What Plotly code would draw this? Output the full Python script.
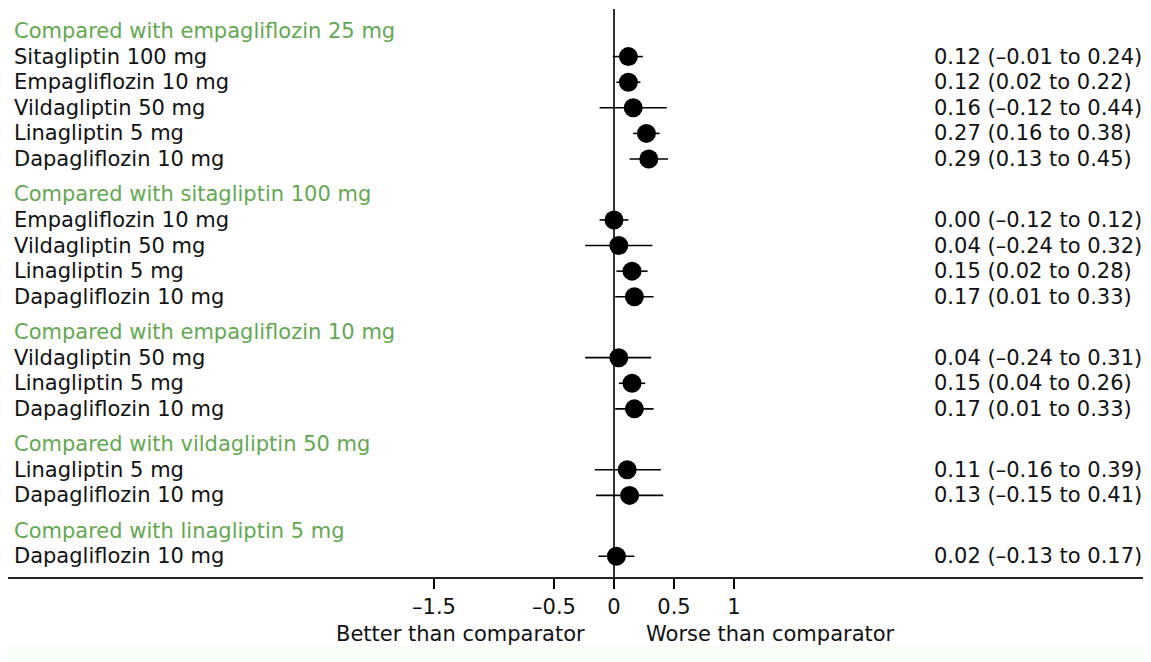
import plotly.graph_objects as go

# ---- data ----
group_titles = [
    "Compared with empagliflozin 25 mg",
    "Compared with sitagliptin 100 mg",
    "Compared with empagliflozin 10 mg",
    "Compared with vildagliptin 50 mg",
    "Compared with linagliptin 5 mg",
]
group_treatments = [
    ["Sitagliptin 100 mg", "Empagliflozin 10 mg", "Vildagliptin 50 mg", "Linagliptin 5 mg", "Dapagliflozin 10 mg"],
    ["Empagliflozin 10 mg", "Vildagliptin 50 mg", "Linagliptin 5 mg", "Dapagliflozin 10 mg"],
    ["Vildagliptin 50 mg", "Linagliptin 5 mg", "Dapagliflozin 10 mg"],
    ["Linagliptin 5 mg", "Dapagliflozin 10 mg"],
    ["Dapagliflozin 10 mg"],
]
group_estimates = [
    [0.12, 0.12, 0.16, 0.27, 0.29],
    [0.00, 0.04, 0.15, 0.17],
    [0.04, 0.15, 0.17],
    [0.11, 0.13],
    [0.02],
]
group_lower = [
    [-0.01, 0.02, -0.12, 0.16, 0.13],
    [-0.12, -0.24, 0.02, 0.01],
    [-0.24, 0.04, 0.01],
    [-0.16, -0.15],
    [-0.13],
]
group_upper = [
    [0.24, 0.22, 0.44, 0.38, 0.45],
    [0.12, 0.32, 0.28, 0.33],
    [0.31, 0.26, 0.33],
    [0.39, 0.41],
    [0.17],
]
tick_values = [-1.5, -0.5, 0, 0.5, 1]
tick_labels = ["\u20131.5", "\u20130.5", "0", "0.5", "1"]
left_axis_label = "Better than comparator"
right_axis_label = "Worse than comparator"

# ---- layout helpers ----
ROW = 1.0
HEADER_GAP = 1.38
GREEN = "#63a851"
FONT = "DejaVu Sans"
FS = 21


def fmt(v):
    s = f"{abs(v):.2f}"
    return ("\u2013" + s) if v < 0 else s


header_y = []
row_y, row_x, row_lo, row_hi, row_names, row_text = [], [], [], [], [], []
pos = 0.0
for gi, title in enumerate(group_titles):
    if gi > 0:
        pos += HEADER_GAP
    header_y.append(pos)
    for name, est, lo, hi in zip(group_treatments[gi], group_estimates[gi], group_lower[gi], group_upper[gi]):
        pos += ROW
        row_y.append(pos)
        row_x.append(est)
        row_lo.append(est - lo)
        row_hi.append(hi - est)
        row_names.append(name)
        row_text.append(f"{est:.2f} ({fmt(lo)} to {fmt(hi)})")

fig = go.Figure()
fig.add_trace(go.Scatter(
    x=row_x, y=row_y, mode="markers",
    marker=dict(color="black", size=19, symbol="circle"),
    error_x=dict(type="data", symmetric=False, array=row_hi, arrayminus=row_lo,
                 color="black", thickness=1.6, width=0),
    hoverinfo="skip", showlegend=False,
))

annotations = []
LABEL_X = -5.02
VALUE_X = 2.65
for t, y in zip(group_titles, header_y):
    annotations.append(dict(x=LABEL_X, y=y, xref="x", yref="y", text=t, showarrow=False,
                            xanchor="left", yanchor="middle",
                            font=dict(family=FONT, size=FS, color=GREEN)))
for n, y, txt in zip(row_names, row_y, row_text):
    annotations.append(dict(x=LABEL_X, y=y, xref="x", yref="y", text=n, showarrow=False,
                            xanchor="left", yanchor="middle",
                            font=dict(family=FONT, size=FS, color="#111111")))
    annotations.append(dict(x=VALUE_X, y=y, xref="x", yref="y", text=txt, showarrow=False,
                            xanchor="left", yanchor="middle",
                            font=dict(family=FONT, size=FS, color="#111111")))
annotations.append(dict(x=-1.28, y=-0.1, xref="x", yref="paper", text=left_axis_label,
                        showarrow=False, xanchor="center", yanchor="middle",
                        font=dict(family=FONT, size=FS, color="#111111")))
annotations.append(dict(x=1.3, y=-0.1, xref="x", yref="paper", text=right_axis_label,
                        showarrow=False, xanchor="center", yanchor="middle",
                        font=dict(family=FONT, size=FS, color="#111111")))

# page body has an 8px margin; all pixel targets below are in figure coords
PX = 120.0  # pixels per x unit
ZERO_PX = 606
L = 0
W = 1143
H = 654
top_px, bottom_px = 1, 569
row_px = 25.6
first_px = 23

fig.update_layout(
    width=W, height=H,
    margin=dict(l=L, r=0, t=top_px, b=H - bottom_px, pad=0),
    paper_bgcolor="white", plot_bgcolor="white",
    font=dict(family=FONT, size=FS, color="#111111"),
    annotations=annotations,
    xaxis=dict(
        range=[(L - ZERO_PX) / PX, (W - ZERO_PX) / PX],
        tickvals=tick_values, ticktext=tick_labels,
        ticks="outside", ticklen=10, tickwidth=1.6, tickcolor="black",
        showline=True, linecolor="#222222", linewidth=1.6,
        showgrid=False, zeroline=True, zerolinecolor="#333333", zerolinewidth=2,
        tickfont=dict(family=FONT, size=FS, color="#111111"),
        fixedrange=True,
    ),
    yaxis=dict(
        range=[(bottom_px - first_px) / row_px, (top_px - first_px) / row_px],
        visible=False, showgrid=False, zeroline=False, fixedrange=True,
    ),
    shapes=[dict(type="rect", xref="paper", yref="paper", x0=0, x1=1,
                 y0=-(637 - bottom_px) / (bottom_px - top_px), y1=-(654 - bottom_px) / (bottom_px - top_px),
                 fillcolor="#f8fdf6", line=dict(width=0), layer="below")],
)

fig.write_html("out.html")
